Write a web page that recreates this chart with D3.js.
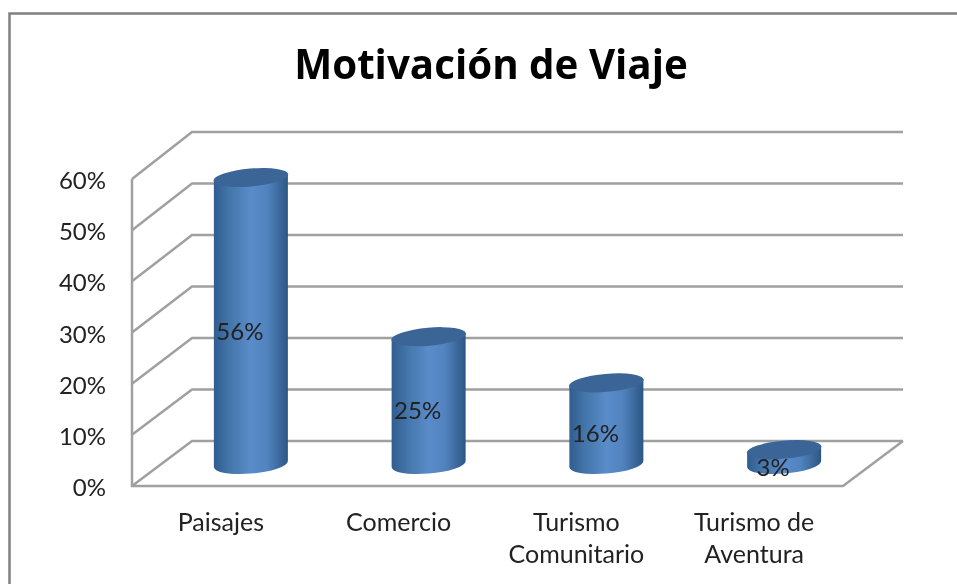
<!DOCTYPE html>
<html>
<head>
<meta charset="utf-8">
<script src="https://cdn.jsdelivr.net/npm/d3@7"></script>
<style>
	html, body { margin: 0; padding: 0; background: #fff; }
	svg { display: block; }
	text { font-family: "Lato", "Open Sans", sans-serif; fill: #222; font-variant-ligatures: none; }
</style>
</head>
<body>
<div id="chart"></div>
<script>
var categories = [["Paisajes"], ["Comercio"], ["Turismo", "Comunitario"], ["Turismo de", "Aventura"]];
var values = [0.56, 0.25, 0.16, 0.03];
var valueLabels = ["56%", "25%", "16%", "3%"];
var yTicks = [0, 0.1, 0.2, 0.3, 0.4, 0.5, 0.6];

var svgwidth = 957;
var svgheight = 584;

// 3d box: front edge of the floor and the width of the side wall
var frontLeft = 132;
var frontRight = 843;
var depthX = 60;
var barBase = 464;
var barRx = 37;
var barRy = 9;

var svg = d3.select("#chart")
	.append("svg")
	.attr("width", svgwidth)
	.attr("height", svgheight);

var defs = svg.append("defs");
var grad = defs.append("linearGradient").attr("id", "cyl");
grad.append("stop").attr("offset", "0%").attr("stop-color", "#305d90");
grad.append("stop").attr("offset", "20%").attr("stop-color", "#4374a8");
grad.append("stop").attr("offset", "50%").attr("stop-color", "#5a8cca");
grad.append("stop").attr("offset", "72%").attr("stop-color", "#5183bf");
grad.append("stop").attr("offset", "100%").attr("stop-color", "#2d5683");

defs.append("filter").attr("id", "soft")
	.append("feGaussianBlur").attr("stdDeviation", 0.5);

var g = svg.append("g").attr("filter", "url(#soft)");

// outer frame, runs off the page on the right and at the bottom
g.append("path")
	.attr("d", "M9.5,590V13.5H965")
	.attr("fill", "none")
	.attr("stroke", "#808080")
	.attr("stroke-width", 2.5);

g.append("text")
	.attr("x", 491)
	.attr("y", 79)
	.attr("text-anchor", "middle")
	.style("font-family", '"Open Sans", sans-serif')
	.style("font-size", "40.3px")
	.style("font-weight", "700")
	.style("fill", "#000")
	.text("Motivación de Viaje");

var yFront = d3.scaleLinear().domain([0, 0.6]).range([486, 179]);
var yBack = d3.scaleLinear().domain([0, 0.6]).range([441, 132]);
var yBar = d3.scaleLinear().domain([0, 0.6]).range([465, 157]);
var x = d3.scaleBand()
	.domain(d3.range(categories.length))
	.range([frontLeft + depthX / 2, frontRight + depthX / 2]);

// walls: side wall diagonals, back wall gridlines
var grid = g.append("g")
	.attr("fill", "none")
	.attr("stroke", "#a0a0a0")
	.attr("stroke-width", 2.5);

yTicks.forEach(function (t) {
	grid.append("path")
		.attr("d", "M" + frontLeft + "," + yFront(t) + "L" + (frontLeft + depthX) + "," + yBack(t) + "H" + (frontRight + depthX));
});
grid.append("path")
	.attr("d", "M" + frontLeft + "," + yFront(0.6) + "V" + yFront(0) + "H" + frontRight + "L" + (frontRight + depthX) + "," + yBack(0));

// y axis labels
var yAxis = g.append("g")
	.attr("transform", "translate(106,1)")
	.call(d3.axisLeft(yFront).tickValues(yTicks).tickSize(0).tickPadding(0).tickFormat(d3.format(".0%")));
yAxis.select(".domain").remove();
yAxis.selectAll("text")
	.style("font-size", "24px")
	.style("font-family", '"Lato", "Open Sans", sans-serif')
	.attr("dy", "0.36em")
	.attr("text-anchor", "end");

// cylinders
var bars = g.selectAll(".bar")
	.data(values)
	.enter()
	.append("g")
	.attr("class", "bar");

bars.append("path")
	.attr("fill", "url(#cyl)")
	.attr("d", function (d, i) {
		var cx = x(i) + x.bandwidth() / 2;
		var top = yBar(d);
		return "M" + (cx - barRx) + "," + (top + 3) +
			"L" + (cx - barRx) + "," + (barBase + 3) +
			"A" + barRx + "," + (barRy + 0.5) + " -5 0 0 " + (cx + barRx) + "," + (barBase - 3) +
			"L" + (cx + barRx) + "," + (top - 3) + "Z";
	});

bars.append("ellipse")
	.attr("fill", "#3a6596")
	.attr("rx", barRx + 0.5)
	.attr("ry", barRy)
	.attr("transform", function (d, i) {
		return "translate(" + (x(i) + x.bandwidth() / 2) + "," + yBar(d) + ") rotate(-5)";
	});

bars.append("text")
	.attr("x", function (d, i) { return x(i) + x.bandwidth() / 2 - 11; })
	.attr("y", function (d) { return (yBar(d) + barBase) / 2 + 19; })
	.attr("text-anchor", "middle")
	.style("font-size", "24px")
	.text(function (d, i) { return valueLabels[i]; });

// category labels, shifted back to the front edge of the floor
var labels = g.selectAll(".cat")
	.data(categories)
	.enter()
	.append("text")
	.attr("class", "cat")
	.attr("text-anchor", "middle")
	.style("font-size", "25px")
	.attr("transform", function (d, i) {
		return "translate(" + (x(i) + x.bandwidth() / 2 - depthX / 2) + ",531)";
	});

labels.selectAll("tspan")
	.data(function (d) { return d; })
	.enter()
	.append("tspan")
	.attr("x", 0)
	.attr("y", function (d, i) { return i * 32; })
	.text(function (d) { return d; });
</script>
</body>
</html>
